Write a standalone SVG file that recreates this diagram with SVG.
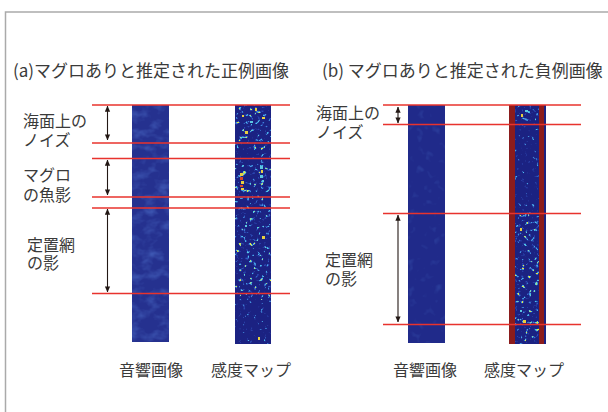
<svg xmlns="http://www.w3.org/2000/svg" width="608" height="412" viewBox="0 0 608 412">
<style>
text{font-family:"Noto Sans CJK JP","Noto Sans",sans-serif;fill:#3a3a3a}
.t{font-size:17px}
.l{font-size:16px}
.red{stroke:#e8332d;stroke-width:1.3;fill:none}
.arr{stroke:#231815;stroke-width:1.1;fill:none;marker-start:url(#ah);marker-end:url(#ah)}
.ac{fill:#25318f;filter:url(#fAc)}
.sm{fill:#1b2282}
.y{fill:#e8d040}
.r{fill:#d9462a}
.c{fill:#5cc8e0}
</style>
<defs>
<marker id="ah" viewBox="0 0 8 8" refX="7.5" refY="4" markerWidth="6" markerHeight="6" orient="auto-start-reverse" markerUnits="userSpaceOnUse">
<path d="M0,0.5 L8,4 L0,7.5 Z" fill="#231815"/>
</marker>
<filter id="fAc" x="0" y="0" width="1" height="1" color-interpolation-filters="sRGB">
<feTurbulence type="fractalNoise" baseFrequency="0.07 0.1" numOctaves="3" seed="5" result="n"/>
<feColorMatrix in="n" type="matrix" values="0 0 0 0 0.24  0 0 0 0 0.34  0 0 0 0 0.70  2.2 0 0 0 -1.0" result="c"/>
<feComposite in="c" in2="SourceGraphic" operator="atop"/>
</filter>
<filter id="fAcB" x="0" y="0" width="1" height="1" color-interpolation-filters="sRGB">
<feTurbulence type="fractalNoise" baseFrequency="0.12" numOctaves="2" seed="9" result="n"/>
<feColorMatrix in="n" type="matrix" values="0 0 0 0 0.20  0 0 0 0 0.30  0 0 0 0 0.66  2 0 0 0 -1.2" result="c"/>
<feComposite in="c" in2="SourceGraphic" operator="atop"/>
</filter>
<filter id="fSpD" x="0" y="0" width="1" height="1" color-interpolation-filters="sRGB">
<feTurbulence type="fractalNoise" baseFrequency="0.28" numOctaves="2" seed="2" result="n"/>
<feColorMatrix in="n" type="matrix" values="0 0 0 0 0.22  0 0 0 0 0.40  0 0 0 0 0.85  6 0 0 0 -3.45" result="c1"/>
<feColorMatrix in="n" type="matrix" values="0 0 0 0 0.30  0 0 0 0 0.80  0 0 0 0 0.92  12 0 0 0 -8.0" result="c2"/>
<feColorMatrix in="n" type="matrix" values="0 0 0 0 0.90  0 0 0 0 0.92  0 0 0 0 0.25  20 0 0 0 -15.0" result="c3"/>
<feMerge><feMergeNode in="SourceGraphic"/><feMergeNode in="c1"/><feMergeNode in="c2"/><feMergeNode in="c3"/></feMerge>
</filter>
<filter id="fSpS" x="0" y="0" width="1" height="1" color-interpolation-filters="sRGB">
<feTurbulence type="fractalNoise" baseFrequency="0.28" numOctaves="2" seed="7" result="n"/>
<feColorMatrix in="n" type="matrix" values="0 0 0 0 0.22  0 0 0 0 0.38  0 0 0 0 0.82  5 0 0 0 -3.15" result="c1"/>
<feColorMatrix in="n" type="matrix" values="0 0 0 0 0.30  0 0 0 0 0.75  0 0 0 0 0.92  12 0 0 0 -8.6" result="c2"/>
<feMerge><feMergeNode in="SourceGraphic"/><feMergeNode in="c1"/><feMergeNode in="c2"/></feMerge>
</filter>
</defs>
<rect width="608" height="412" fill="#fff"/>
<path d="M5.5,412 V12 H608" fill="none" stroke="#aaa" stroke-width="1.5"/>

<g id="panel-a">
<text class="t" x="13" y="77">(a)マグロありと推定された正例画像</text>
<g id="a-acoustic">
<rect class="ac" x="132" y="105" width="37" height="237"/>
</g>
<g id="a-sensitivity">
<rect class="sm" x="235" y="105" width="36" height="239"/>
<rect class="sm" x="235" y="105" width="36" height="45" filter="url(#fSpD)"/>
<rect class="sm" x="235" y="150" width="36" height="15" filter="url(#fSpS)"/>
<rect class="sm" x="235" y="165" width="36" height="35" filter="url(#fSpD)"/>
<rect class="sm" x="235" y="200" width="36" height="100" filter="url(#fSpD)"/>
<rect class="sm" x="235" y="300" width="36" height="44" filter="url(#fSpS)"/>
<rect class="y" x="240" y="173" width="3" height="3"/>
<rect class="r" x="240" y="177" width="3" height="3"/>
<rect class="y" x="241" y="181" width="3" height="3"/>
<rect class="r" x="240" y="185" width="3" height="2"/>
<rect class="y" x="241" y="188" width="3" height="2"/>
<rect class="c" x="260" y="166" width="3" height="3"/>
<rect class="y" x="261" y="170" width="2" height="3"/>
<rect class="c" x="260" y="175" width="3" height="3"/>
<rect class="c" x="262" y="180" width="2" height="2"/>
<rect class="y" x="245" y="131" width="3" height="3"/>
<rect class="y" x="255" y="108" width="2" height="3"/>
<rect class="y" x="262" y="117" width="3" height="2"/>
<rect class="y" x="242" y="115" width="2" height="2"/>
<rect class="c" x="250" y="121" width="3" height="2"/>
<rect class="y" x="262" y="236" width="3" height="3"/>
<rect class="c" x="245" y="225" width="2" height="2"/>
<rect class="y" x="258" y="337" width="2" height="3"/>
</g>
<g id="a-labels">
<text class="l" x="23" y="127">海面上の<tspan x="23" y="146">ノイズ</tspan></text>
<text class="l" x="23" y="181">マグロ<tspan x="23" y="201">の魚影</tspan></text>
<text class="l" x="27" y="251">定置網<tspan x="27" y="269">の影</tspan></text>
<text class="l" x="119" y="376">音響画像</text>
<text class="l" x="211" y="376">感度マップ</text>
</g>
</g>

<g id="panel-b">
<text class="t" x="322" y="77">(b) マグロありと推定された負例画像</text>
<g id="b-acoustic">
<rect x="408" y="105" width="37" height="238" fill="#202a8a" filter="url(#fAcB)"/>
</g>
<g id="b-sensitivity">
<rect class="sm" x="509" y="105" width="37" height="239"/>
<rect class="sm" x="515" y="105" width="24" height="20" filter="url(#fSpD)"/>
<rect class="sm" x="515" y="125" width="24" height="88" filter="url(#fSpS)"/>
<rect class="sm" x="515" y="213" width="24" height="131" filter="url(#fSpD)"/>
<rect class="y" x="521" y="114" width="2" height="3"/>
<rect class="c" x="525" y="110" width="3" height="2"/>
<rect class="y" x="520" y="228" width="2" height="3"/>
<rect class="y" x="523" y="320" width="3" height="3"/>
<rect class="c" x="520" y="310" width="2" height="2"/>
<rect x="509" y="105" width="6" height="239" fill="#8b1c1c"/>
<rect x="539" y="105" width="5" height="239" fill="#8b1c1c"/>
</g>
<g id="b-labels">
<text class="l" x="316" y="119">海面上の<tspan x="316" y="138">ノイズ</tspan></text>
<text class="l" x="325" y="266">定置網<tspan x="325" y="285">の影</tspan></text>
<text class="l" x="393" y="376">音響画像</text>
<text class="l" x="484" y="376">感度マップ</text>
</g>
</g>

<g id="connectors">
<line class="red" x1="92" y1="105" x2="290" y2="105"/>
<line class="red" x1="92" y1="143" x2="290" y2="143"/>
<line class="red" x1="92" y1="158.5" x2="290" y2="158.5"/>
<line class="red" x1="92" y1="197" x2="290" y2="197"/>
<line class="red" x1="92" y1="208" x2="290" y2="208"/>
<line class="red" x1="92" y1="293.5" x2="290" y2="293.5"/>
<line class="red" x1="383" y1="105" x2="581" y2="105"/>
<line class="red" x1="383" y1="124.5" x2="581" y2="124.5"/>
<line class="red" x1="383" y1="213.5" x2="581" y2="213.5"/>
<line class="red" x1="383" y1="324.5" x2="581" y2="324.5"/>
<line class="arr" x1="107.5" y1="106" x2="107.5" y2="140"/>
<line class="arr" x1="107.5" y1="160" x2="107.5" y2="195"/>
<line class="arr" x1="107.5" y1="209" x2="107.5" y2="292"/>
<line class="arr" x1="398" y1="107" x2="398" y2="123"/>
<line class="arr" x1="398" y1="215" x2="398" y2="322"/>
</g>
</svg>
